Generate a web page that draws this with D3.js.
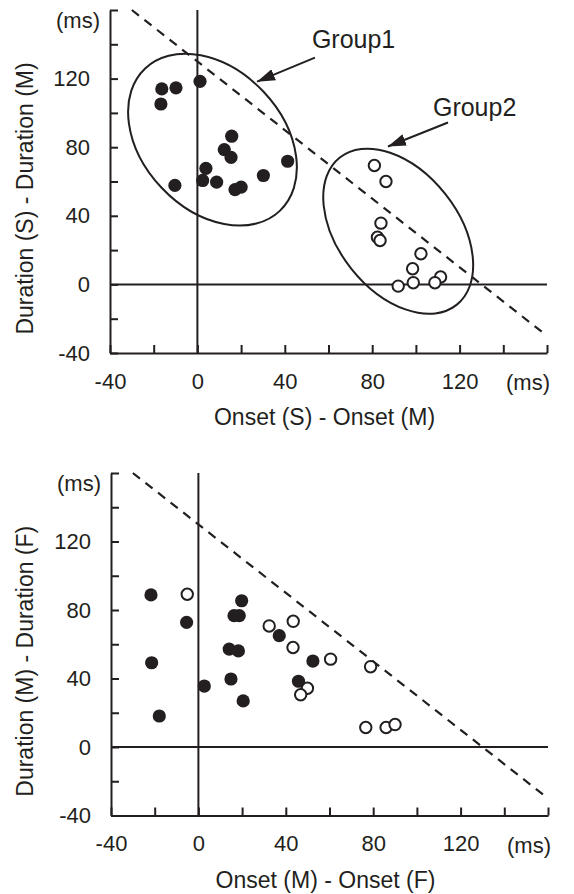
<!DOCTYPE html>
<html>
<head>
<meta charset="utf-8">
<title>Onset / Duration differences</title>
<style>
body { margin: 0; background: white; }
svg { display: block; font-family: "Liberation Sans", Arial, sans-serif; }
text { fill: #231f20; }
.axis path, .axis line { stroke: #231f20; stroke-width: 2px; }
.axis text { font-size: 22px; font-family: "Liberation Sans", Arial, sans-serif; fill: #231f20; }
</style>
</head>
<body>
<svg id="chart" width="574" height="894"></svg>
<script src="https://d3js.org/d3.v7.min.js"></script>
<script>
// upper panel: Onset (S) - Onset (M) / Duration (S) - Duration (M)
var topFilled = [
    [-16.3, 114.0], [-9.8, 114.6], [-16.7, 105.2], [1.2, 118.4],
    [15.7, 86.4], [12.3, 78.6], [15.4, 74.1], [3.9, 67.7],
    [2.4, 60.6], [8.8, 59.6], [17.2, 55.3], [20.0, 56.7],
    [30.2, 63.5], [41.3, 71.8], [-10.3, 57.7]
];
var topOpen = [
    [81.0, 69.3], [86.3, 60.0], [84.0, 35.7], [82.4, 27.5], [83.6, 25.6],
    [102.3, 17.9], [98.5, 9.1], [91.9, -1.0], [98.8, 1.0],
    [111.3, 4.3], [108.7, 1.0]
];

// lower panel: Onset (M) - Onset (F) / Duration (M) - Duration (F)
var bottomFilled = [
    [-21.7, 88.8], [-5.4, 72.8], [-21.4, 49.2], [-17.9, 18.1],
    [2.7, 35.6], [19.8, 85.4], [16.3, 76.7], [18.7, 76.7],
    [14.1, 57.2], [18.3, 56.1], [14.9, 39.7], [20.5, 26.9],
    [37.0, 65.0], [52.4, 50.2], [45.8, 38.4]
];
var bottomOpen = [
    [-5.1, 89.2], [32.4, 70.7], [43.4, 73.4], [43.3, 58.1],
    [60.5, 51.3], [78.8, 46.9], [49.9, 34.3], [46.8, 30.5],
    [76.6, 11.4], [85.9, 11.4], [90.0, 13.1]
];

var ticks = d3.range(-40, 161, 20);
var tickLabels = [-40, 0, 40, 80, 120];
var boundary = [[-30, 160], [160, -30]];   // y = 130 - x

// groups in the upper panel (centre in data units)
var groups = [
    { name: "Group1", cx: 6.9, cy: 84.4, rx: 98, ry: 70, angle: 46.6,
      label: [52.4, 138], from: [53.8, 132.2], to: [27.3, 118.2] },
    { name: "Group2", cx: 91.9, cy: 31.0, rx: 94, ry: 60, angle: 51.6,
      label: [107.8, 98.4], from: [114.7, 94.4], to: [87.2, 80.4] }
];

var panels = [
    { top: 10, bottom: 353, left: 110, right: 547, filled: topFilled, open: topOpen,
      xTitle: "Onset (S) - Onset (M)", yTitle: "Duration (S) - Duration (M)", groups: groups },
    { top: 473, bottom: 815.5, left: 111, right: 548, filled: bottomFilled, open: bottomOpen,
      xTitle: "Onset (M) - Onset (F)", yTitle: "Duration (M) - Duration (F)", groups: [] }
];

var ink = "#231f20";
var svg = d3.select("#chart");

svg.append("defs").append("marker")
    .attr("id", "head")
    .attr("viewBox", "0 -6 18 12")
    .attr("refX", 18)
    .attr("refY", 0)
    .attr("markerUnits", "userSpaceOnUse")
    .attr("markerWidth", 18)
    .attr("markerHeight", 12)
    .attr("orient", "auto")
    .append("path")
    .attr("d", "M0,-6L18,0L0,6Z")
    .attr("fill", ink);

panels.forEach(function(p) {
    var x = d3.scaleLinear().domain([-40, 160]).range([p.left, p.right]);
    var y = d3.scaleLinear().domain([-40, 160]).range([p.bottom, p.top]);
    var g = svg.append("g");

    g.append("g")
        .attr("class", "axis")
        .attr("transform", "translate(0," + p.bottom + ")")
        .call(d3.axisBottom(x).tickValues(ticks).tickSizeInner(-8).tickSizeOuter(0).tickPadding(20)
            .tickFormat(function(d) { return tickLabels.indexOf(d) >= 0 ? d : ""; }));

    g.append("g")
        .attr("class", "axis")
        .attr("transform", "translate(" + p.left + ",0)")
        .call(d3.axisLeft(y).tickValues(ticks).tickSizeInner(-8).tickSizeOuter(0).tickPadding(20)
            .tickFormat(function(d) { return tickLabels.indexOf(d) >= 0 ? d : ""; }));

    // zero lines
    g.append("line")
        .attr("x1", x(0)).attr("x2", x(0))
        .attr("y1", y(160)).attr("y2", y(-40))
        .attr("stroke", ink).attr("stroke-width", 2);
    g.append("line")
        .attr("x1", x(-40)).attr("x2", x(160))
        .attr("y1", y(0)).attr("y2", y(0))
        .attr("stroke", ink).attr("stroke-width", 2);

    // dashed boundary
    g.append("path")
        .attr("d", d3.line().x(function(d) { return x(d[0]); }).y(function(d) { return y(d[1]); })(boundary))
        .attr("fill", "none")
        .attr("stroke", ink)
        .attr("stroke-width", 2.2)
        .attr("stroke-dasharray", "9,7");

    p.groups.forEach(function(gr) {
        g.append("ellipse")
            .attr("transform", "translate(" + x(gr.cx) + "," + y(gr.cy) + ") rotate(" + gr.angle + ")")
            .attr("rx", gr.rx).attr("ry", gr.ry)
            .attr("fill", "none")
            .attr("stroke", ink)
            .attr("stroke-width", 2);
    });

    g.selectAll(".dot")
        .data(p.filled)
        .enter().append("circle")
        .attr("cx", function(d) { return x(d[0]); })
        .attr("cy", function(d) { return y(d[1]); })
        .attr("r", 6.6)
        .attr("fill", ink);

    g.selectAll(".ring")
        .data(p.open)
        .enter().append("circle")
        .attr("cx", function(d) { return x(d[0]); })
        .attr("cy", function(d) { return y(d[1]); })
        .attr("r", 5.7)
        .attr("fill", "white")
        .attr("stroke", ink)
        .attr("stroke-width", 2);

    p.groups.forEach(function(gr) {
        g.append("line")
            .attr("x1", x(gr.from[0])).attr("y1", y(gr.from[1]))
            .attr("x2", x(gr.to[0])).attr("y2", y(gr.to[1]))
            .attr("stroke", ink)
            .attr("stroke-width", 2)
            .attr("marker-end", "url(#head)");
        g.append("text")
            .attr("x", x(gr.label[0]))
            .attr("y", y(gr.label[1]))
            .style("font-size", "25px")
            .text(gr.name);
    });

    // unit labels
    g.append("text")
        .attr("x", p.right + 3)
        .attr("y", p.bottom + 37)
        .attr("text-anchor", "end")
        .style("font-size", "22px")
        .text("(ms)");
    g.append("text")
        .attr("x", p.left - 10)
        .attr("y", p.top + 18)
        .attr("text-anchor", "end")
        .style("font-size", "22px")
        .text("(ms)");

    // titles
    g.append("text")
        .attr("x", (p.left + p.right) / 2 - 4)
        .attr("y", p.bottom + 72)
        .attr("text-anchor", "middle")
        .style("font-size", "23px")
        .text(p.xTitle);
    g.append("text")
        .attr("transform", "translate(33," + (y(60) + 17) + ") rotate(-90)")
        .attr("text-anchor", "middle")
        .style("font-size", "23px")
        .text(p.yTitle);
});
</script>
</body>
</html>
